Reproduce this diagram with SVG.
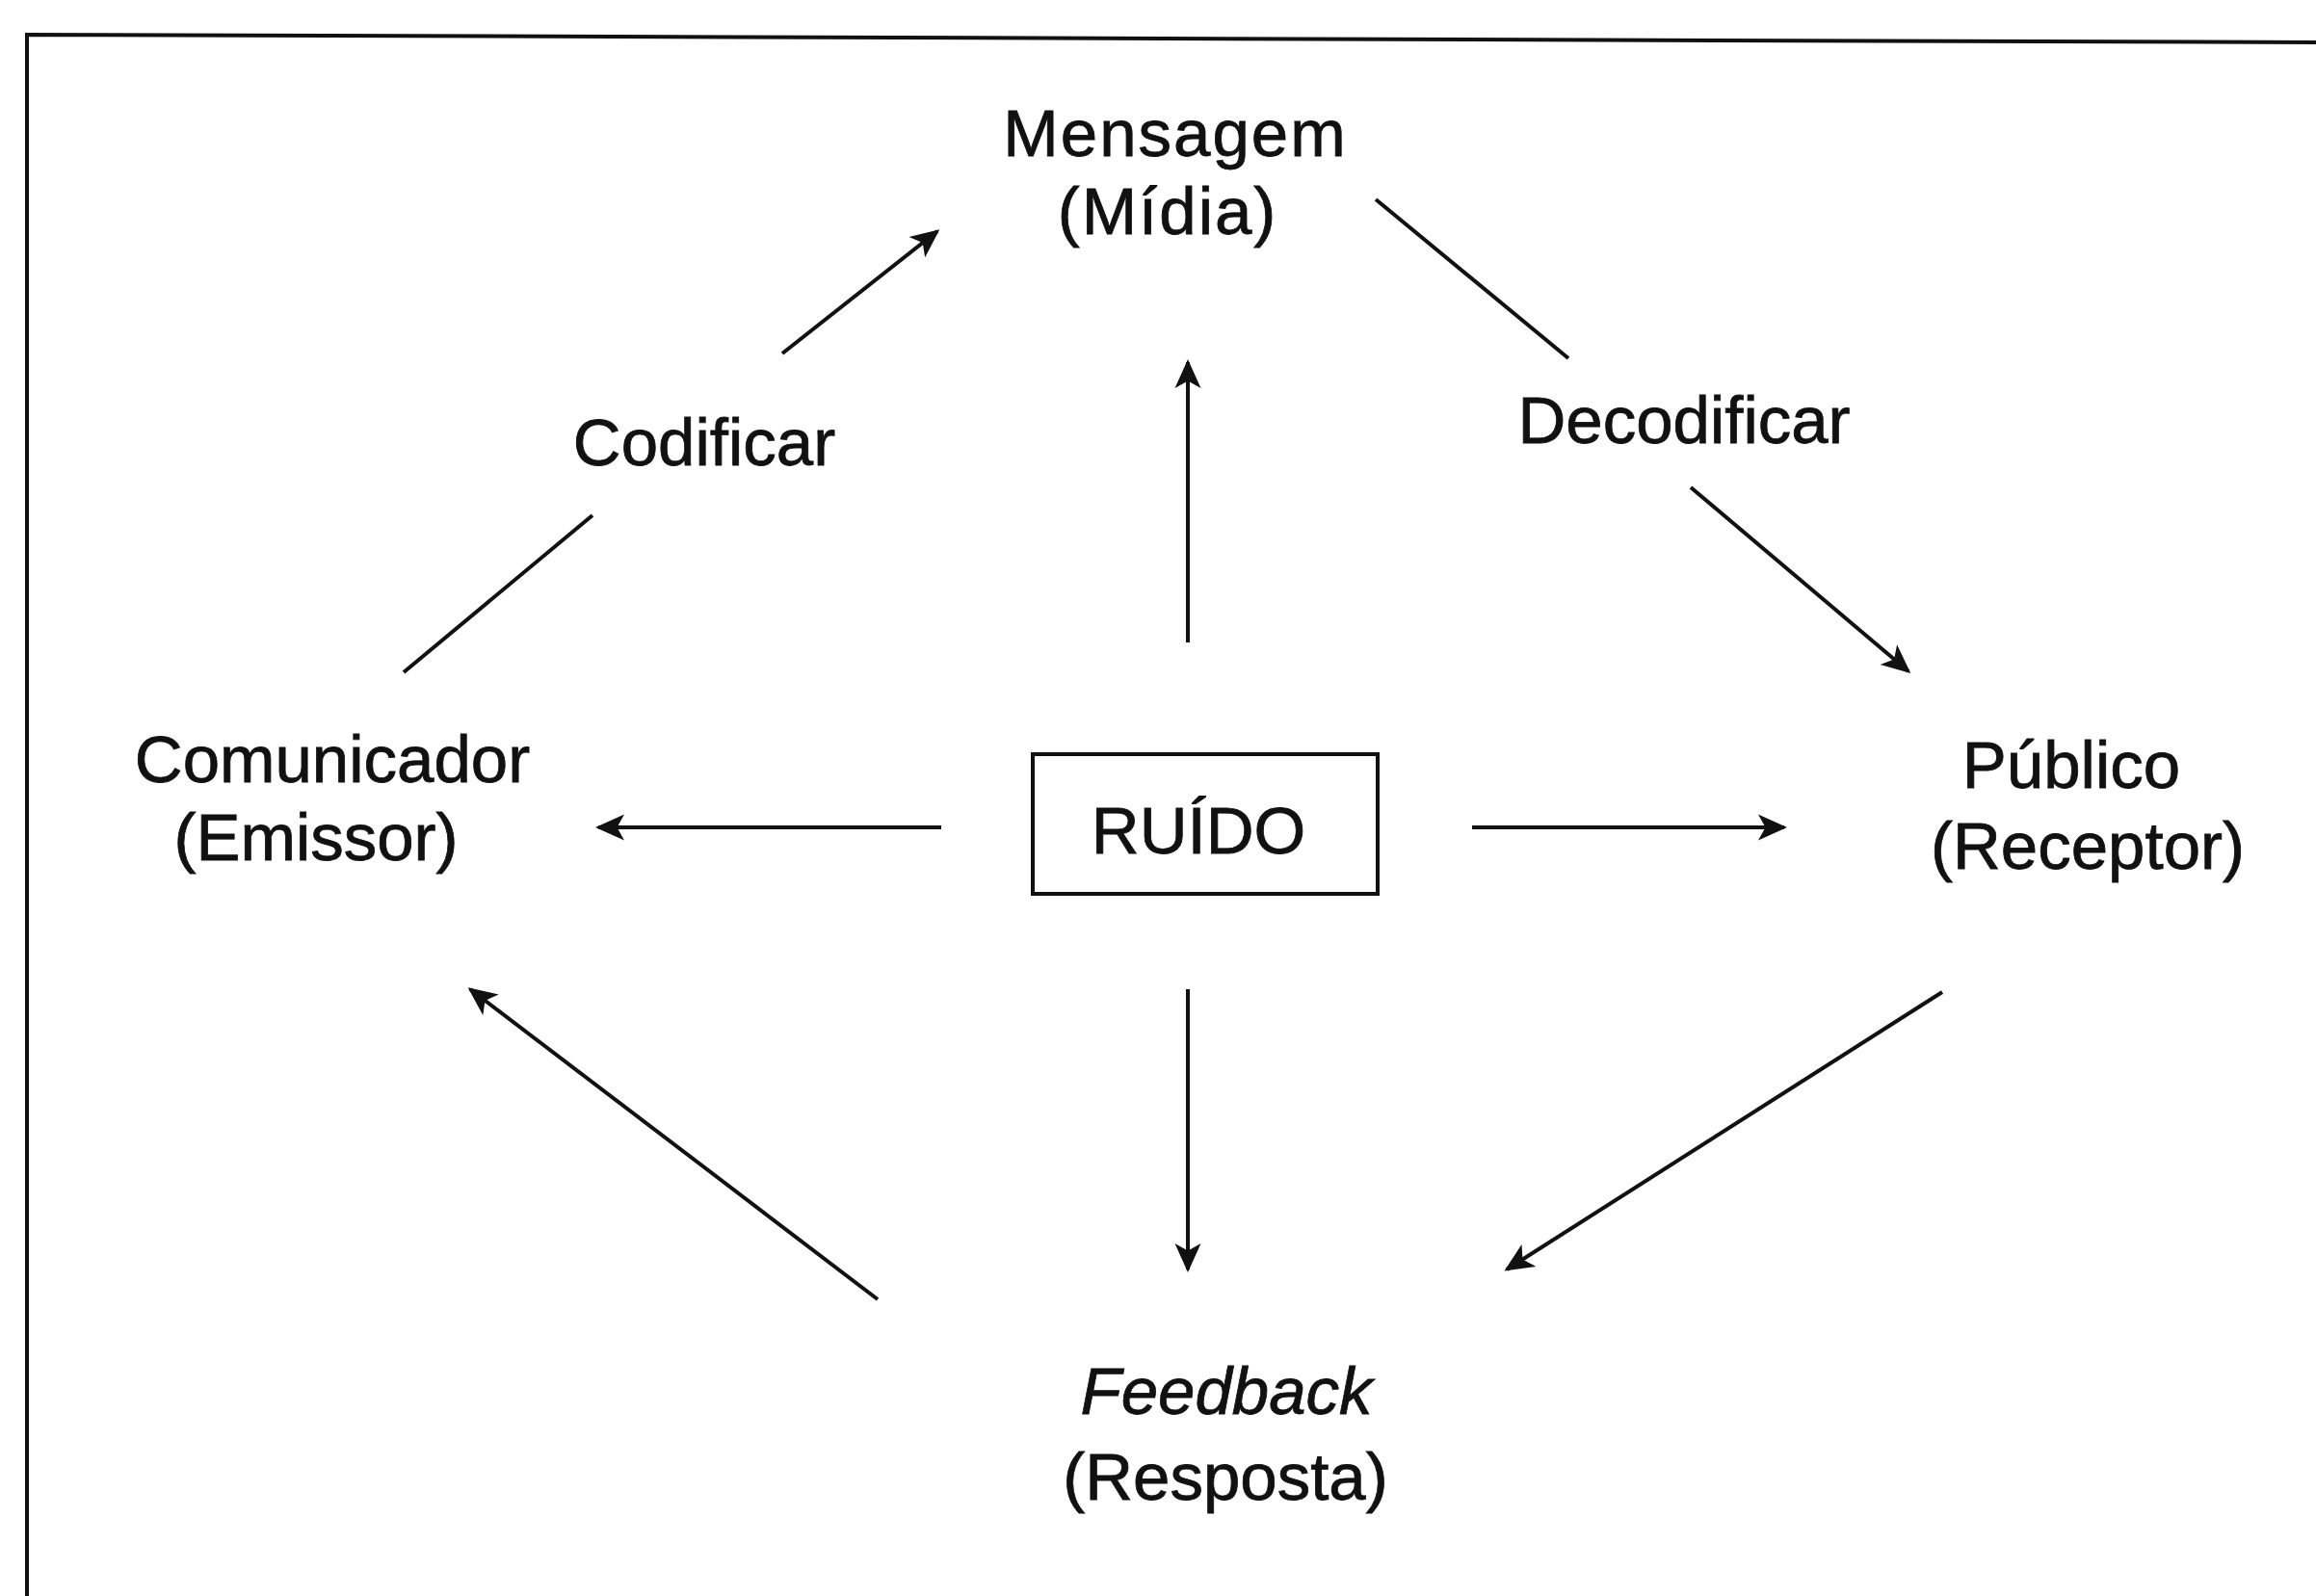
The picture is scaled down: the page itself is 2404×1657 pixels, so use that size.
<svg xmlns="http://www.w3.org/2000/svg" width="2404" height="1657" viewBox="0 0 2404 1657">
  <defs>
    <marker id="arrow" viewBox="0 0 10 10" refX="9" refY="5" markerWidth="7.5" markerHeight="7.5" markerUnits="strokeWidth" orient="auto">
      <path d="M0,0.5 L10,5 L0,9.5 L2.5,5 Z" fill="#111"/>
    </marker>
  </defs>
  <style>
    .lbl { font-family: "Liberation Sans", Arial, sans-serif; font-size: 69px; fill: #111; stroke: #111; stroke-width: 0.8; text-anchor: middle; }
    .it { font-style: italic; }
    .edge { stroke: #111; stroke-width: 4; fill: none; }
    .tip { marker-end: url(#arrow); }
    .frame { stroke: #111; stroke-width: 4; fill: none; }
  </style>
  <rect width="2404" height="1657" fill="#fff"/>

  <!-- outer frame (top and left edges) -->
  <path class="frame" d="M28,1657 L28,36 L2404,44"/>

  <g id="mensagem">
    <text class="lbl" x="1220" y="162" letter-spacing="2">Mensagem</text>
    <text class="lbl" x="1212" y="243" letter-spacing="2">(Mídia)</text>
  </g>
  <g id="codificar">
    <text class="lbl" x="731" y="483">Codificar</text>
  </g>
  <g id="decodificar">
    <text class="lbl" x="1748" y="460">Decodificar</text>
  </g>
  <g id="comunicador">
    <text class="lbl" x="345" y="812">Comunicador</text>
    <text class="lbl" x="328" y="893">(Emissor)</text>
  </g>
  <g id="publico">
    <text class="lbl" x="2150" y="818">Público</text>
    <text class="lbl" x="2167" y="902">(Receptor)</text>
  </g>
  <g id="ruido">
    <rect x="1072" y="783" width="358" height="145" fill="none" stroke="#111" stroke-width="4"/>
    <text class="lbl" x="1244" y="886" font-size="80">RUÍDO</text>
  </g>
  <g id="feedback">
    <text class="lbl it" x="1273" y="1468">Feedback</text>
    <text class="lbl" x="1272" y="1557">(Resposta)</text>
  </g>

  <g id="connectors">
    <line class="edge" x1="419" y1="698" x2="615" y2="535"/>
    <line class="edge tip" x1="812" y1="367" x2="973" y2="240"/>
    <line class="edge" x1="1428" y1="207" x2="1628" y2="372"/>
    <line class="edge tip" x1="1755" y1="506" x2="1981" y2="697"/>
    <line class="edge tip" x1="1233" y1="667" x2="1233" y2="376"/>
    <line class="edge tip" x1="977" y1="859" x2="621" y2="859"/>
    <line class="edge tip" x1="1528" y1="859" x2="1852" y2="859"/>
    <line class="edge tip" x1="1233" y1="1027" x2="1233" y2="1318"/>
    <line class="edge tip" x1="2016" y1="1030" x2="1564" y2="1318"/>
    <line class="edge tip" x1="911" y1="1349" x2="488" y2="1027"/>
  </g>
</svg>
